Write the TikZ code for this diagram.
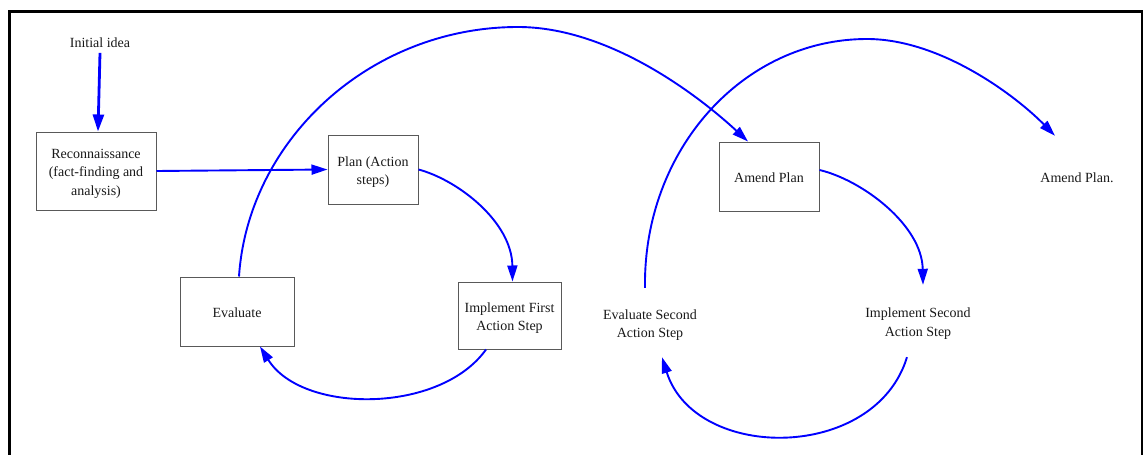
\documentclass[tikz,border=0pt]{standalone}
\usepackage{fontspec}
\setmainfont{Liberation Serif}
\usetikzlibrary{arrows.meta}
% fixed height for the first text line of every node
\newcommand{\headstrut}{\rule{0pt}{15.5pt}}
\begin{document}
\begin{tikzpicture}[x=1pt,y=-1pt,
  every node/.style={font=\fontsize{14}{18.5}\selectfont, text=black!90, align=center, inner sep=0pt,
    execute at end node={\rule[-4pt]{0pt}{4pt}}},
  stepbox/.style={draw=black!65, line width=1pt, fill=white},
  plainbox/.style={draw=none},
  flow/.style={draw=blue, line width=1.9pt, -{Triangle[length=16pt,width=10pt]}},
  startflow/.style={draw=blue, line width=2.8pt, -{Triangle[length=17pt,width=11pt]}},
]
\useasboundingbox (0,0) rectangle (1144,455);
% outer frame, open at the lower edge
\begin{scope}
  \clip (0,0) rectangle (1144,455);
  \draw[line width=2.7pt] (9.3,11.3) rectangle (1142,480);
\end{scope}

% first cycle
\node (init) at (100,42) {\headstrut Initial idea};
\node[stepbox, minimum width=120pt, minimum height=78pt] (recon) at (96,171)
  {\headstrut Reconnaissance\\(fact-finding and\\analysis)};
\node[stepbox, minimum width=90pt, minimum height=69pt] (plan) at (373,169.5)
  {\headstrut Plan (Action\\steps)};
\node[stepbox, minimum width=103pt, minimum height=67pt] (impl1) at (509.5,315.5)
  {\headstrut Implement First\\Action Step};
\node[stepbox, minimum width=114pt, minimum height=69pt] (eval) at (237,311.5)
  {\headstrut Evaluate};

% second cycle
\node[stepbox, minimum width=100pt, minimum height=69pt] (amend) at (769,176.5)
  {\headstrut Amend Plan};
\node[plainbox, minimum width=110pt, minimum height=72pt] (impl2) at (918,321)
  {\headstrut Implement Second\\Action Step};
\node[plainbox, minimum width=100pt, minimum height=69pt] (eval2) at (650,322.5)
  {\headstrut Evaluate Second\\Action Step};
\node[plainbox, minimum width=80pt, minimum height=82pt] (amendtxt) at (1077,177)
  {\headstrut Amend Plan.};

% connectors
\draw[startflow] ([yshift=-1pt]init.south) -- ([xshift=2pt]recon.north);
\draw[flow] (recon.east) -- (plan.west);
\draw[flow] (plan.east) .. controls (458,180) and (512,222) .. ([xshift=3pt]impl1.north);
\draw[flow] ([xshift=-23.5pt]impl1.south) .. controls (440,414) and (302,414) .. ([xshift=23pt]eval.south);
\draw[flow] ([xshift=2pt]eval.north) .. controls (248,140) and (370,27) .. (518,27)
  .. controls (610,27) and (700,97) .. ([xshift=-21pt]amend.north);
\draw[flow] ([yshift=6.5pt]amend.east) .. controls (862,180) and (922,225) .. ([xshift=5pt]impl2.north);
\draw[flow] ([xshift=-11pt]impl2.south) .. controls (875,462) and (695,462) .. ([xshift=12pt]eval2.south);
\draw[flow] ([xshift=-5pt]eval2.north) .. controls (643,150) and (743,39) .. (867,39)
  .. controls (940,39) and (1015,95) .. ([xshift=-22pt]amendtxt.north);
\end{tikzpicture}
\end{document}
